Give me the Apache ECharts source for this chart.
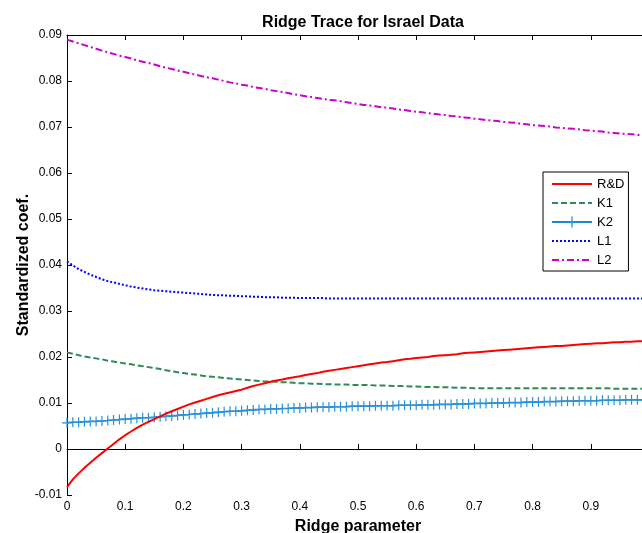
<!DOCTYPE html>
<html>
<head>
<meta charset="utf-8">
<title>Ridge Trace for Israel Data</title>
<script src="https://cdn.jsdelivr.net/npm/echarts@6/dist/echarts.min.js"></script>
<style>
  html, body { margin: 0; padding: 0; background: #fff; }
  #chart { width: 642px; height: 533px; }
</style>
</head>
<body>
<div id="chart"></div>
<script>
// ridge parameter k
const ridgeK = [
  0, 0.01, 0.02, 0.03, 0.04, 0.05, 0.06, 0.07, 0.08, 0.09,
  0.1, 0.11, 0.12, 0.13, 0.14, 0.15, 0.16, 0.17, 0.18, 0.19,
  0.2, 0.21, 0.22, 0.23, 0.24, 0.25, 0.26, 0.27, 0.28, 0.29,
  0.3, 0.31, 0.32, 0.33, 0.34, 0.35, 0.36, 0.37, 0.38, 0.39,
  0.4, 0.41, 0.42, 0.43, 0.44, 0.45, 0.46, 0.47, 0.48, 0.49,
  0.5, 0.51, 0.52, 0.53, 0.54, 0.55, 0.56, 0.57, 0.58, 0.59,
  0.6, 0.61, 0.62, 0.63, 0.64, 0.65, 0.66, 0.67, 0.68, 0.69,
  0.7, 0.71, 0.72, 0.73, 0.74, 0.75, 0.76, 0.77, 0.78, 0.79,
  0.8, 0.81, 0.82, 0.83, 0.84, 0.85, 0.86, 0.87, 0.88, 0.89,
  0.9, 0.91, 0.92, 0.93, 0.94, 0.95, 0.96, 0.97, 0.98, 0.99,
  1
]

const rd = [
  -0.0083, -0.0066, -0.0053, -0.0041, -0.0030, -0.0019, -0.0009, 0.0001, 0.0011, 0.0021,
  0.0030, 0.0038, 0.0046, 0.0053, 0.0059, 0.0065, 0.0071, 0.0077, 0.0082, 0.0087,
  0.0092, 0.0097, 0.0101, 0.0105, 0.0109, 0.0113, 0.0117, 0.0120, 0.0123, 0.0126,
  0.0129, 0.0133, 0.0137, 0.0140, 0.0143, 0.0146, 0.0149, 0.0151, 0.0154, 0.0156,
  0.0158, 0.0161, 0.0163, 0.0165, 0.0168, 0.0170, 0.0172, 0.0174, 0.0176, 0.0178,
  0.0180, 0.0182, 0.0184, 0.0186, 0.0188, 0.0189, 0.0191, 0.0193, 0.0195, 0.0196,
  0.0198, 0.0199, 0.0200, 0.0202, 0.0203, 0.0204, 0.0205, 0.0206, 0.0208, 0.0209,
  0.0210, 0.0211, 0.0212, 0.0213, 0.0214, 0.0215, 0.0216, 0.0217, 0.0218, 0.0219,
  0.0220, 0.0221, 0.0222, 0.0223, 0.0224, 0.0224, 0.0225, 0.0226, 0.0227, 0.0228,
  0.0229, 0.0230, 0.0230, 0.0231, 0.0232, 0.0232, 0.0233, 0.0233, 0.0234, 0.0234,
  0.0235
]

const k1 = [
  0.0210, 0.0207, 0.0204, 0.0201, 0.0199, 0.0197, 0.0195, 0.0192, 0.0190, 0.0188,
  0.0186, 0.0184, 0.0182, 0.0180, 0.0178, 0.0176, 0.0174, 0.0171, 0.0169, 0.0167,
  0.0165, 0.0163, 0.0162, 0.0160, 0.0158, 0.0157, 0.0156, 0.0154, 0.0153, 0.0152,
  0.0151, 0.0150, 0.0149, 0.0148, 0.0147, 0.0147, 0.0146, 0.0145, 0.0145, 0.0144,
  0.0143, 0.0143, 0.0142, 0.0142, 0.0141, 0.0141, 0.0140, 0.0140, 0.0140, 0.0139,
  0.0139, 0.0139, 0.0139, 0.0138, 0.0138, 0.0138, 0.0137, 0.0137, 0.0137, 0.0136,
  0.0136, 0.0135, 0.0135, 0.0135, 0.0134, 0.0134, 0.0134, 0.0133, 0.0133, 0.0133,
  0.0132, 0.0132, 0.0132, 0.0132, 0.0132, 0.0132, 0.0132, 0.0132, 0.0132, 0.0132,
  0.0132, 0.0132, 0.0132, 0.0132, 0.0132, 0.0132, 0.0132, 0.0132, 0.0132, 0.0132,
  0.0132, 0.0132, 0.0132, 0.0132, 0.0131, 0.0131, 0.0131, 0.0131, 0.0131, 0.0131,
  0.0131
]

const k2 = [
  0.0057, 0.0058, 0.0058, 0.0059, 0.0060, 0.0060, 0.0061, 0.0062, 0.0063, 0.0064,
  0.0065, 0.0066, 0.0067, 0.0068, 0.0068, 0.0069, 0.0070, 0.0071, 0.0072, 0.0073,
  0.0074, 0.0075, 0.0076, 0.0077, 0.0078, 0.0079, 0.0080, 0.0081, 0.0082, 0.0082,
  0.0083, 0.0084, 0.0085, 0.0086, 0.0086, 0.0087, 0.0087, 0.0088, 0.0088, 0.0089,
  0.0089, 0.0090, 0.0090, 0.0091, 0.0091, 0.0091, 0.0092, 0.0092, 0.0092, 0.0093,
  0.0093, 0.0093, 0.0093, 0.0094, 0.0094, 0.0094, 0.0094, 0.0095, 0.0095, 0.0095,
  0.0095, 0.0096, 0.0096, 0.0096, 0.0097, 0.0097, 0.0097, 0.0098, 0.0098, 0.0098,
  0.0099, 0.0099, 0.0099, 0.0100, 0.0100, 0.0100, 0.0101, 0.0101, 0.0101, 0.0102,
  0.0102, 0.0102, 0.0103, 0.0103, 0.0103, 0.0104, 0.0104, 0.0104, 0.0105, 0.0105,
  0.0105, 0.0105, 0.0106, 0.0106, 0.0106, 0.0106, 0.0107, 0.0107, 0.0107, 0.0107,
  0.0107
]

const l1 = [
  0.0408, 0.0399, 0.0391, 0.0385, 0.0379, 0.0374, 0.0369, 0.0365, 0.0362, 0.0359,
  0.0356, 0.0353, 0.0351, 0.0349, 0.0347, 0.0345, 0.0344, 0.0343, 0.0342, 0.0341,
  0.0340, 0.0339, 0.0338, 0.0337, 0.0336, 0.0335, 0.0334, 0.0334, 0.0333, 0.0333,
  0.0332, 0.0332, 0.0331, 0.0331, 0.0330, 0.0330, 0.0330, 0.0329, 0.0329, 0.0329,
  0.0328, 0.0328, 0.0328, 0.0328, 0.0328, 0.0327, 0.0327, 0.0327, 0.0327, 0.0327,
  0.0327, 0.0327, 0.0327, 0.0327, 0.0327, 0.0327, 0.0327, 0.0327, 0.0327, 0.0327,
  0.0327, 0.0327, 0.0327, 0.0327, 0.0327, 0.0327, 0.0327, 0.0327, 0.0327, 0.0327,
  0.0327, 0.0327, 0.0327, 0.0327, 0.0327, 0.0327, 0.0327, 0.0327, 0.0327, 0.0327,
  0.0327, 0.0327, 0.0327, 0.0327, 0.0327, 0.0327, 0.0327, 0.0327, 0.0327, 0.0327,
  0.0327, 0.0327, 0.0327, 0.0327, 0.0327, 0.0327, 0.0327, 0.0327, 0.0327, 0.0327,
  0.0327
]

const l2 = [
  0.0890, 0.0886, 0.0882, 0.0878, 0.0874, 0.0870, 0.0866, 0.0862, 0.0859, 0.0855,
  0.0852, 0.0849, 0.0845, 0.0842, 0.0839, 0.0836, 0.0832, 0.0829, 0.0826, 0.0823,
  0.0820, 0.0817, 0.0814, 0.0811, 0.0808, 0.0806, 0.0803, 0.0800, 0.0797, 0.0795,
  0.0792, 0.0790, 0.0787, 0.0785, 0.0783, 0.0780, 0.0778, 0.0776, 0.0774, 0.0771,
  0.0769, 0.0767, 0.0765, 0.0763, 0.0761, 0.0759, 0.0758, 0.0756, 0.0754, 0.0752,
  0.0750, 0.0748, 0.0747, 0.0745, 0.0743, 0.0742, 0.0740, 0.0738, 0.0737, 0.0735,
  0.0733, 0.0732, 0.0730, 0.0729, 0.0727, 0.0726, 0.0724, 0.0723, 0.0721, 0.0720,
  0.0718, 0.0717, 0.0715, 0.0714, 0.0713, 0.0711, 0.0710, 0.0709, 0.0707, 0.0706,
  0.0704, 0.0703, 0.0702, 0.0701, 0.0699, 0.0698, 0.0697, 0.0696, 0.0695, 0.0693,
  0.0692, 0.0691, 0.0690, 0.0688, 0.0687, 0.0686, 0.0685, 0.0684, 0.0683, 0.0681,
  0.0680
]

const seriesNames = ['R&D', 'K1', 'K2', 'L1', 'L2']

const FONT = 'Liberation Sans, Arial, sans-serif'
// '+' marker, thin arms
const PLUS = 'path://M4.4,0L5.6,0L5.6,4.4L10,4.4L10,5.6L5.6,5.6L5.6,10L4.4,10L4.4,5.6L0,5.6L0,4.4L4.4,4.4Z'

const pairs = (vals) => ridgeK.map((k, i) => [k, vals[i]])

const fmtY = (v) => {
  if (Math.abs(v) < 1e-9) return '0'
  return v.toFixed(2)
}
const fmtX = (v) => {
  if (Math.abs(v) < 1e-9) return '0'
  return String(Math.round(v * 10) / 10)
}

// legend entries: hide the default circle for lines without markers
const legendData = seriesNames.map(n => {
  if (n === 'K2') return { name: n }
  return { name: n, itemStyle: { opacity: 0 } }
})

const chart = echarts.init(document.getElementById('chart'))

const option = {
  animation: false,
  backgroundColor: '#fff',
  title: {
    text: 'Ridge Trace for Israel Data',
    left: 358,
    textAlign: 'center',
    top: 10,
    textStyle: { fontFamily: FONT, fontSize: 16, fontWeight: 'bold', color: '#000' }
  },
  legend: {
    orient: 'vertical',
    left: 543,
    top: 172,
    padding: [5, 4, 4, 8],
    itemWidth: 40,
    itemHeight: 14,
    itemGap: 5,
    backgroundColor: '#fff',
    borderColor: '#000',
    borderWidth: 1,
    borderRadius: 0,
    textStyle: { fontFamily: FONT, fontSize: 13, color: '#000', lineHeight: 14 },
    data: legendData
  },
  grid: { left: 67, top: 35, width: 582, height: 460, outerBoundsMode: 'none', containLabel: false },
  xAxis: [
    {
      type: 'value',
      min: 0,
      max: 1,
      interval: 0.1,
      name: 'Ridge parameter',
      nameLocation: 'middle',
      nameGap: 24,
      nameMoveOverlap: false,
      nameTextStyle: { fontFamily: FONT, fontSize: 16, fontWeight: 'bold', color: '#000' },
      axisLine: { show: true, lineStyle: { color: '#000', width: 1 } },
      axisTick: { show: true, inside: true, length: 5, lineStyle: { color: '#000' } },
      axisLabel: { fontFamily: FONT, fontSize: 12, color: '#000', margin: 6, formatter: fmtX },
      splitLine: { show: false }
    },
    {
      // top border with ticks, like matlab box
      type: 'value',
      position: 'top',
      min: 0,
      max: 1,
      interval: 0.1,
      axisLine: { show: true, lineStyle: { color: '#000', width: 1 } },
      axisTick: { show: true, inside: true, length: 5, lineStyle: { color: '#000' } },
      axisLabel: { show: false },
      splitLine: { show: false }
    }
  ],
  yAxis: {
    type: 'value',
    min: -0.01,
    max: 0.09,
    interval: 0.01,
    name: 'Standardized coef.',
    nameLocation: 'middle',
    nameGap: 35,
    nameMoveOverlap: false,
    nameTextStyle: { fontFamily: FONT, fontSize: 16, fontWeight: 'bold', color: '#000' },
    axisLine: { show: true, lineStyle: { color: '#000', width: 1 } },
    axisTick: { show: true, inside: true, length: 5, lineStyle: { color: '#000' } },
    axisLabel: { fontFamily: FONT, fontSize: 12, color: '#000', margin: 5, formatter: fmtY },
    splitLine: { show: false }
  },
  series: [
    {
      name: 'R&D',
      type: 'line',
      data: pairs(rd),
      symbol: 'none',
      color: '#ff0000',
      lineStyle: { color: '#ff0000', width: 2 },
      z: 5
    },
    {
      name: 'K1',
      type: 'line',
      data: pairs(k1),
      symbol: 'none',
      color: '#2e8b57',
      lineStyle: { color: '#2e8b57', width: 2, type: [6, 3] },
      z: 3
    },
    {
      name: 'K2',
      type: 'line',
      data: pairs(k2),
      symbol: PLUS,
      symbolSize: 10,
      showAllSymbol: true,
      color: '#1a87cf',
      itemStyle: { color: '#2a92d8' },
      lineStyle: { color: '#1a87cf', width: 1.5 },
      z: 4
    },
    {
      name: 'L1',
      type: 'line',
      data: pairs(l1),
      symbol: 'none',
      color: '#0000ff',
      lineStyle: { color: '#0000ff', width: 2, type: [2, 2] },
      z: 3
    },
    {
      name: 'L2',
      type: 'line',
      data: pairs(l2),
      symbol: 'none',
      color: '#cc00cc',
      lineStyle: { color: '#cc00cc', width: 2, type: [7, 3, 2, 3] },
      z: 3
    }
  ]
}

chart.setOption(option)
</script>
</body>
</html>
